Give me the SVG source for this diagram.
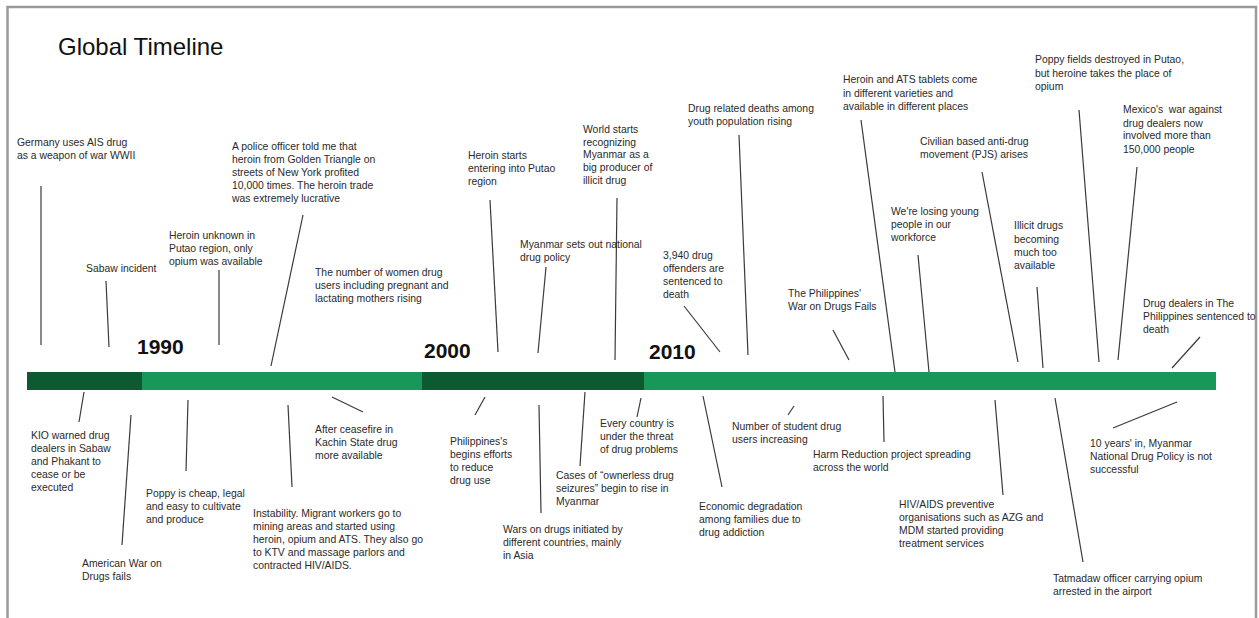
<svg xmlns="http://www.w3.org/2000/svg" width="1259" height="618" viewBox="0 0 1259 618">
<style>
.t{font-family:"Liberation Sans",Arial,sans-serif;font-size:10.4px;fill:#2a2a2a}
.yr{font-family:"Liberation Sans",Arial,sans-serif;font-size:21px;font-weight:bold;fill:#111}
.title{font-family:"Liberation Sans",Arial,sans-serif;font-size:24px;fill:#111}
.c line{stroke:#3a3a3a;stroke-width:1.2}
.dk{fill:#0d5a31}
.lt{fill:#17985a}
</style>
<rect x="0" y="0" width="1259" height="618" fill="#fff"/>
<rect x="7.5" y="7" width="1248.5" height="640" fill="none" stroke="#9a9a9a" stroke-width="2.5"/>
<text class="title" x="58" y="55">Global Timeline</text>
<g id="timeline">
<rect class="dk" x="27" y="372" width="115" height="18"/>
<rect class="lt" x="142" y="372" width="280" height="18"/>
<rect class="dk" x="422" y="372" width="222" height="18"/>
<rect class="lt" x="644" y="372" width="572" height="18"/>
<text class="yr" x="137" y="354">1990</text>
<text class="yr" x="424" y="358">2000</text>
<text class="yr" x="649" y="359">2010</text>
</g>
<g class="c" id="connectors">
<line x1="41" y1="186" x2="41" y2="345"/>
<line x1="106" y1="281" x2="109" y2="347"/>
<line x1="219" y1="270" x2="219" y2="345"/>
<line x1="303" y1="215" x2="271" y2="366"/>
<line x1="490" y1="200" x2="498" y2="352"/>
<line x1="617" y1="198" x2="615" y2="360"/>
<line x1="546" y1="267" x2="538" y2="353"/>
<line x1="739" y1="135" x2="748" y2="355"/>
<line x1="684" y1="306" x2="720" y2="352"/>
<line x1="833" y1="330" x2="849" y2="360"/>
<line x1="861" y1="120" x2="895" y2="372"/>
<line x1="918" y1="255" x2="929" y2="372"/>
<line x1="982" y1="172" x2="1018" y2="362"/>
<line x1="1037" y1="287" x2="1043" y2="368"/>
<line x1="1079" y1="110" x2="1099" y2="362"/>
<line x1="1137" y1="167" x2="1118" y2="360"/>
<line x1="1200" y1="337" x2="1172" y2="368"/>
<line x1="84" y1="392" x2="79" y2="422"/>
<line x1="131" y1="415" x2="122" y2="545"/>
<line x1="188" y1="400" x2="186" y2="471"/>
<line x1="288" y1="405" x2="292" y2="487"/>
<line x1="332" y1="397" x2="363" y2="412"/>
<line x1="485" y1="397" x2="475" y2="415"/>
<line x1="539" y1="405" x2="541" y2="513"/>
<line x1="585" y1="392" x2="580" y2="466"/>
<line x1="641" y1="398" x2="637" y2="417"/>
<line x1="703" y1="396" x2="722" y2="487"/>
<line x1="794" y1="406" x2="788" y2="415"/>
<line x1="883" y1="396" x2="884" y2="442"/>
<line x1="995" y1="400" x2="1003" y2="495"/>
<line x1="1055" y1="398" x2="1083" y2="562"/>
<line x1="1177" y1="402" x2="1113" y2="428"/>
</g>
<g id="n1"><text class="t" x="17" y="146">Germany uses AIS drug</text><text class="t" x="17" y="159">as a weapon of war WWII</text></g>
<g id="n2"><text class="t" x="86" y="272">Sabaw incident</text></g>
<g id="n3"><text class="t" x="169" y="239">Heroin unknown in</text><text class="t" x="169" y="252">Putao region, only</text><text class="t" x="169" y="265">opium was available</text></g>
<g id="n4"><text class="t" x="232" y="150">A police officer told me that</text><text class="t" x="232" y="163">heroin from Golden Triangle on</text><text class="t" x="232" y="176">streets of New York profited</text><text class="t" x="232" y="189">10,000 times. The heroin trade</text><text class="t" x="232" y="202">was extremely lucrative</text></g>
<g id="n5"><text class="t" x="315" y="276">The number of women drug</text><text class="t" x="315" y="289">users including pregnant and</text><text class="t" x="315" y="302">lactating mothers rising</text></g>
<g id="n6"><text class="t" x="468" y="159">Heroin starts</text><text class="t" x="468" y="172">entering into Putao</text><text class="t" x="468" y="185">region</text></g>
<g id="n7"><text class="t" x="583" y="133">World starts</text><text class="t" x="583" y="146">recognizing</text><text class="t" x="583" y="158">Myanmar as a</text><text class="t" x="583" y="171">big producer of</text><text class="t" x="583" y="184">illicit drug</text></g>
<g id="n8"><text class="t" x="520" y="248">Myanmar sets out national</text><text class="t" x="520" y="261">drug policy</text></g>
<g id="n9"><text class="t" x="688" y="112">Drug related deaths among</text><text class="t" x="688" y="125">youth population rising</text></g>
<g id="n10"><text class="t" x="663" y="259">3,940 drug</text><text class="t" x="663" y="272">offenders are</text><text class="t" x="663" y="285">sentenced to</text><text class="t" x="663" y="298">death</text></g>
<g id="n11"><text class="t" x="788" y="297">The Philippines'</text><text class="t" x="788" y="310">War on Drugs Fails</text></g>
<g id="n12"><text class="t" x="843" y="83">Heroin and ATS tablets come</text><text class="t" x="843" y="97">in different varieties and</text><text class="t" x="843" y="110">available in different places</text></g>
<g id="n13"><text class="t" x="891" y="215">We're losing young</text><text class="t" x="891" y="228">people in our</text><text class="t" x="891" y="241">workforce</text></g>
<g id="n14"><text class="t" x="920" y="145">Civilian based anti-drug</text><text class="t" x="920" y="158">movement (PJS) arises</text></g>
<g id="n15"><text class="t" x="1014" y="229">Illicit drugs</text><text class="t" x="1014" y="243">becoming</text><text class="t" x="1014" y="256">much too</text><text class="t" x="1014" y="269">available</text></g>
<g id="n16"><text class="t" x="1035" y="63">Poppy fields destroyed in Putao,</text><text class="t" x="1035" y="77">but heroine takes the place of</text><text class="t" x="1035" y="90">opium</text></g>
<g id="n17"><text class="t" x="1123" y="113" style="white-space:pre">Mexico's  war against</text><text class="t" x="1123" y="127">drug dealers now</text><text class="t" x="1123" y="139">involved more than</text><text class="t" x="1123" y="153">150,000 people</text></g>
<g id="n18"><text class="t" x="1143" y="307">Drug dealers in The</text><text class="t" x="1143" y="320">Philippines sentenced to</text><text class="t" x="1143" y="333">death</text></g>
<g id="n19"><text class="t" x="31" y="439">KIO warned drug</text><text class="t" x="31" y="452">dealers in Sabaw</text><text class="t" x="31" y="465">and Phakant to</text><text class="t" x="31" y="478">cease or be</text><text class="t" x="31" y="491">executed</text></g>
<g id="n20"><text class="t" x="82" y="567">American War on</text><text class="t" x="82" y="580">Drugs fails</text></g>
<g id="n21"><text class="t" x="146" y="497">Poppy is cheap, legal</text><text class="t" x="146" y="510">and easy to cultivate</text><text class="t" x="146" y="523">and produce</text></g>
<g id="n22"><text class="t" x="253" y="517">Instability. Migrant workers go to</text><text class="t" x="253" y="530">mining areas and started using</text><text class="t" x="253" y="543">heroin, opium and ATS. They also go</text><text class="t" x="253" y="556">to KTV and massage parlors and</text><text class="t" x="253" y="569">contracted HIV/AIDS.</text></g>
<g id="n23"><text class="t" x="315" y="433">After ceasefire in</text><text class="t" x="315" y="446">Kachin State drug</text><text class="t" x="315" y="459">more available</text></g>
<g id="n24"><text class="t" x="450" y="445">Philippines's</text><text class="t" x="450" y="458">begins efforts</text><text class="t" x="450" y="471">to reduce</text><text class="t" x="450" y="484">drug use</text></g>
<g id="n25"><text class="t" x="503" y="533">Wars on drugs initiated by</text><text class="t" x="503" y="546">different countries, mainly</text><text class="t" x="503" y="559">in Asia</text></g>
<g id="n26"><text class="t" x="556" y="479">Cases of “ownerless drug</text><text class="t" x="556" y="492">seizures” begin to rise in</text><text class="t" x="556" y="505">Myanmar</text></g>
<g id="n27"><text class="t" x="600" y="427">Every country is</text><text class="t" x="600" y="440">under the threat</text><text class="t" x="600" y="453">of drug problems</text></g>
<g id="n28"><text class="t" x="699" y="510">Economic degradation</text><text class="t" x="699" y="523">among families due to</text><text class="t" x="699" y="536">drug addiction</text></g>
<g id="n29"><text class="t" x="732" y="430">Number of student drug</text><text class="t" x="732" y="443">users increasing</text></g>
<g id="n30"><text class="t" x="813" y="458">Harm Reduction project spreading</text><text class="t" x="813" y="471">across the world</text></g>
<g id="n31"><text class="t" x="899" y="508">HIV/AIDS preventive</text><text class="t" x="899" y="521">organisations such as AZG and</text><text class="t" x="899" y="534">MDM started providing</text><text class="t" x="899" y="547">treatment services</text></g>
<g id="n32"><text class="t" x="1053" y="582">Tatmadaw officer carrying opium</text><text class="t" x="1053" y="595">arrested in the airport</text></g>
<g id="n33"><text class="t" x="1090" y="447">10 years' in, Myanmar</text><text class="t" x="1090" y="460">National Drug Policy is not</text><text class="t" x="1090" y="473">successful</text></g>
</svg>
